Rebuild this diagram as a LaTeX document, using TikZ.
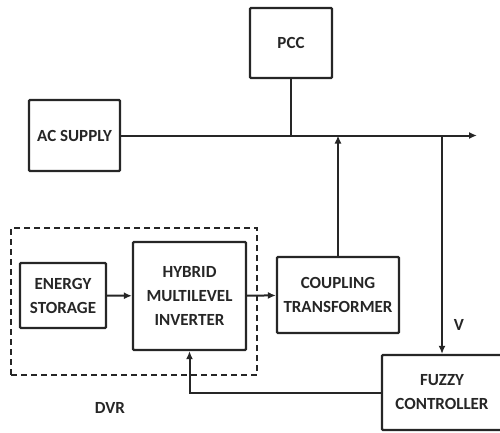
\documentclass[tikz,border=0pt]{standalone}
\usepackage{fontspec}
\setmainfont{Carlito}
\usetikzlibrary{arrows.meta,positioning,calc}

\begin{document}
\begin{tikzpicture}[x=1pt,y=-1pt, black!85,
  blk/.style={draw, line width=2.2pt, rounded corners=1pt, align=center, inner sep=0pt,
    font=\bfseries\fontsize{17}{24}\selectfont},
  wire/.style={line width=2pt},
  tip/.style={wire, -{Latex[length=8pt,width=7pt]}}]
\useasboundingbox (0,0) rectangle (500,433);
\node[blk, minimum width=82, minimum height=70] (pcc) at (291,43) {PCC};
\node[blk, minimum width=91, minimum height=71] (ac) at (74.5,135.5) {AC SUPPLY};
\node[draw, line width=2.4pt, dash pattern=on 6pt off 4pt, minimum width=246, minimum height=147] (dvrbox) at (134,301.5) {};
\node[blk, minimum width=86, minimum height=65] (es) at (63,295.5) {ENERGY\\STORAGE};
\node[blk, minimum width=113, minimum height=108] (hmi) at (189.5,296) {HYBRID\\MULTILEVEL\\INVERTER};
\node[blk, minimum width=122, minimum height=76] (ct) at (338,295) {COUPLING\\TRANSFORMER};
\node[blk, minimum width=120, minimum height=75] (fc) at (442,392.5) {FUZZY\\CONTROLLER};
\node[font=\bfseries\fontsize{17}{20}\selectfont] (dvr) at (110,408) {DVR};
\node[font=\bfseries\fontsize{17}{20}\selectfont] (v) at (459,325) {V};
\coordinate (busend) at (477,135.5);

\draw[tip] (ac.east) -- (busend);
\draw[wire] (pcc.south) -- (pcc |- ac.east);
\draw[tip] (ct.north) -- (ct |- ac.east);
\draw[tip] (fc.north |- ac.east) -- (fc.north);
\draw[tip] (es) -- (hmi);
\draw[tip] (hmi) -- (ct);
\draw[tip] (fc.west) -- (fc.west -| hmi) -- (hmi.south);
\end{tikzpicture}
\end{document}
